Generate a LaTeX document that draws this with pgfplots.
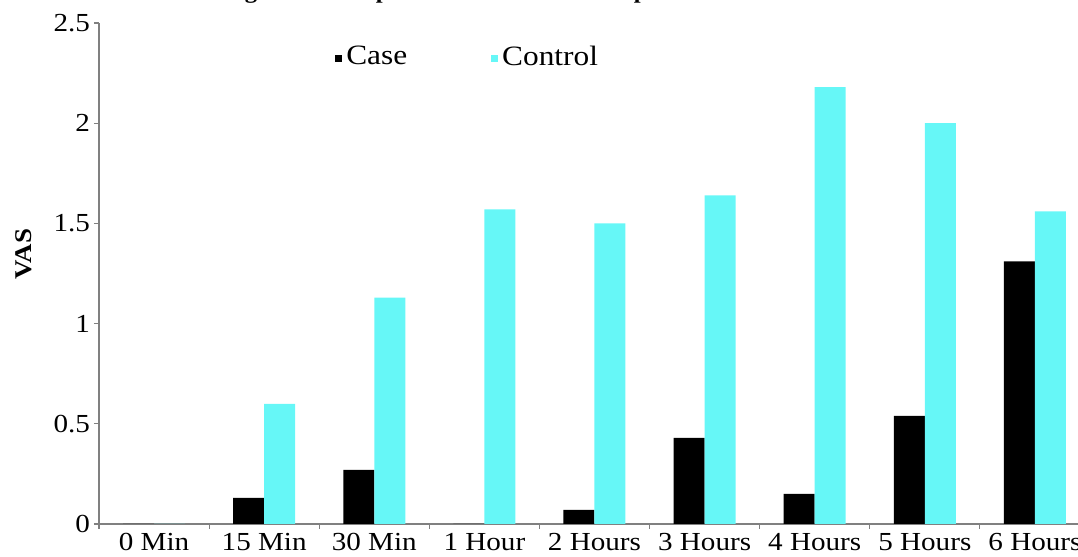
\documentclass[border=0pt]{standalone}
\usepackage{pgfplots}
\pgfplotsset{compat=1.18}
\usepackage{fontspec}
\setmainfont{Liberation Serif}[FakeStretch=1.12]
\definecolor{ctrl}{RGB}{102,247,247}
\definecolor{axgray}{RGB}{128,128,128}

\begin{document}
\begin{tikzpicture}
\begin{axis}[
    name=ax,
    scale only axis,
    width=495.5pt, height=250.5pt,
    ybar=0pt, bar width=15.5pt,
    xmin=-0.5, xmax=8.5, ymin=0, ymax=2.5,
    axis lines=left,
    axis line style={-, draw=axgray, line width=0.9pt},
    xtick={0,...,8},
    xticklabels={0 Min,15 Min,30 Min,1 Hour,2 Hours,3 Hours,4 Hours,5 Hours,6 Hours},
    minor xtick={-0.5,0.5,...,8.5},
    major x tick style={draw=none},
    minor x tick style={draw=axgray, line width=0.6pt},
    ytick={0,0.5,1,1.5,2,2.5},
    yticklabels={0,0.5,1,1.5,2,2.5},
    ytick style={draw=axgray, line width=0.6pt},
    tick align=outside,
    major tick length=2.5pt, minor tick length=2.5pt,
    ticklabel style={font=\fontsize{13}{15}\selectfont},
    xticklabel style={yshift=1.2pt},
    yticklabel style={xshift=1.5pt},
    ylabel={\bfseries VAS},
    ylabel style={at={(axis description cs:-0.0757,0.539)}, anchor=center, font=\fontsize{12}{14}\selectfont},
    legend style={draw=none, fill=none, at={(0.238,0.932)}, anchor=west,
        legend columns=2, font=\fontsize{14}{16}\selectfont, inner sep=0pt,
        /tikz/every even column/.append style={column sep=40pt}},
    legend image code/.code={\fill[#1] (0.5pt,-2.5pt) rectangle (4pt,1pt);},
]
\addplot[fill=black, draw=none] coordinates {
    (0,0) (1,0.13) (2,0.27) (3,0) (4,0.07) (5,0.43) (6,0.15) (7,0.54) (8,1.31)};
\addlegendentry{Case}
\addplot[fill=ctrl, draw=none] coordinates {
    (0,0) (1,0.60) (2,1.13) (3,1.57) (4,1.50) (5,1.64) (6,2.18) (7,2.00) (8,1.56)};
\addlegendentry{Control}
\end{axis}
\node[anchor=base, font=\bfseries\fontsize{11}{13}\selectfont]
    at ([xshift=223pt,yshift=12pt]ax.north west)
    {Figure 1. Comparison of the Two Groups in Mean VAS Score};
\pgfresetboundingbox
\useasboundingbox ([xshift=-49.5pt,yshift=-16.5pt]ax.south west)
    rectangle ([xshift=489.5pt,yshift=11.5pt]ax.north west);
\end{tikzpicture}
\end{document}
